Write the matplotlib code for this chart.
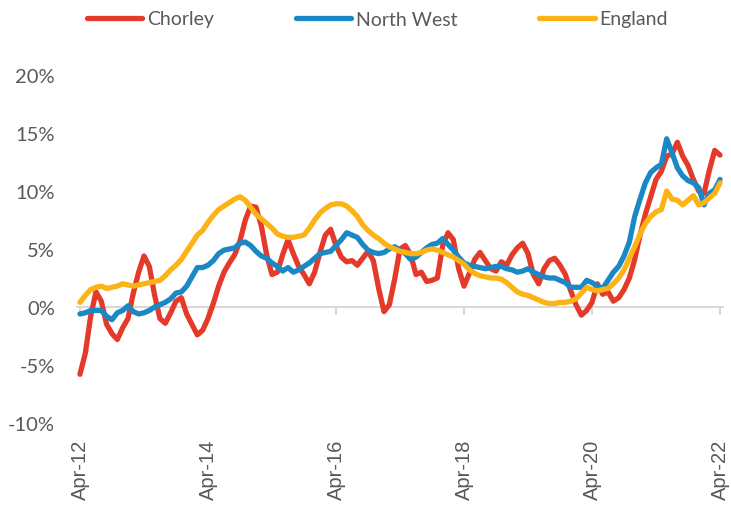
import matplotlib
matplotlib.use("Agg")
import matplotlib.pyplot as plt
from matplotlib.lines import Line2D

# ---------------- data ----------------
months = list(range(121))  # Apr-12 .. Apr-22, monthly

chorley = [
    -5.8, -4.0, -0.8, 1.3, 0.5, -1.5, -2.3, -2.8, -1.8, -1.0,
    1.2, 3.0, 4.4, 3.5, 1.0, -1.0, -1.4, -0.5, 0.5, 0.8,
    -0.6, -1.5, -2.4, -2.0, -1.0, 0.3, 1.8, 3.0, 3.8, 4.5,
    5.7, 7.5, 8.7, 8.6, 7.0, 4.5, 2.8, 3.0, 4.5, 5.8,
    4.6, 3.5, 2.8, 2.0, 3.0, 4.7, 6.2, 6.7, 5.3, 4.3,
    3.9, 4.0, 3.6, 4.2, 4.8, 4.0, 1.6, -0.4, 0.2, 2.4,
    5.0, 5.3, 4.5, 2.8, 3.0, 2.2, 2.3, 2.5, 5.3, 6.4,
    5.8, 3.3, 1.8, 2.9, 4.1, 4.7, 4.0, 3.3, 3.1, 3.9,
    3.6, 4.5, 5.1, 5.5, 4.6, 2.8, 2.0, 3.3, 4.0, 4.2,
    3.6, 2.8, 1.4, 0.2, -0.7, -0.3, 0.4, 2.0, 1.1, 1.3,
    0.5, 0.8, 1.5, 2.5, 4.1, 6.2, 8.0, 9.5, 11.0, 11.7,
    13.0, 13.2, 14.2, 13.0, 12.2, 11.0, 10.0, 9.8, 11.8, 13.5,
    13.1,
]

north_west = [
    -0.6, -0.5, -0.3, -0.3, -0.3, -0.8, -1.1, -0.5, -0.3, 0.1,
    -0.4, -0.6, -0.5, -0.3, 0.0, 0.2, 0.4, 0.7, 1.2, 1.3,
    1.8, 2.6, 3.4, 3.4, 3.6, 4.0, 4.6, 4.9, 5.0, 5.1,
    5.5, 5.6, 5.3, 4.8, 4.4, 4.2, 3.8, 3.5, 3.1, 3.4,
    3.0, 3.2, 3.5, 3.8, 4.2, 4.6, 4.7, 4.8, 5.3, 5.8,
    6.4, 6.2, 6.0, 5.4, 4.9, 4.7, 4.6, 4.7, 5.0, 5.2,
    4.9, 4.6, 4.1, 4.3, 4.7, 5.1, 5.4, 5.5, 5.9, 5.4,
    4.9, 4.3, 3.8, 3.6, 3.5, 3.4, 3.3, 3.4, 3.5, 3.5,
    3.3, 3.2, 3.0, 3.1, 3.3, 3.0, 2.8, 2.6, 2.5, 2.5,
    2.3, 2.1, 1.7, 1.7, 1.7, 2.3, 2.1, 1.8, 1.6, 2.3,
    3.0, 3.5, 4.4, 5.6, 7.8, 9.3, 10.7, 11.6, 12.0, 12.3,
    14.5, 13.3, 12.0, 11.3, 10.9, 10.7, 10.3, 8.8, 9.8, 10.1,
    11.0,
]

england = [
    0.4, 1.0, 1.5, 1.7, 1.8, 1.6, 1.7, 1.8, 2.0, 1.9,
    1.8, 1.9, 2.0, 2.1, 2.2, 2.3, 2.7, 3.2, 3.6, 4.1,
    4.8, 5.5, 6.2, 6.6, 7.3, 7.9, 8.4, 8.7, 9.0, 9.3,
    9.5, 9.2, 8.6, 8.0, 7.6, 7.2, 6.8, 6.3, 6.1, 6.0,
    6.0, 6.1, 6.2, 6.8, 7.5, 8.1, 8.5, 8.8, 8.9, 8.9,
    8.7, 8.3, 7.8, 7.1, 6.6, 6.2, 5.9, 5.5, 5.2, 5.0,
    4.8, 4.7, 4.6, 4.6, 4.7, 4.9, 5.0, 4.9, 4.7, 4.5,
    4.3, 4.0, 3.7, 3.2, 2.9, 2.7, 2.6, 2.5, 2.5, 2.4,
    2.1, 1.7, 1.3, 1.1, 1.0, 0.8, 0.6, 0.4, 0.3, 0.3,
    0.4, 0.4, 0.5, 0.7, 1.2, 1.7, 1.5, 1.4, 1.5, 1.6,
    2.0, 2.5, 3.2, 4.2, 5.2, 6.3, 7.2, 7.8, 8.2, 8.4,
    10.0, 9.3, 9.2, 8.8, 9.2, 9.6, 8.8, 9.0, 9.4, 9.8,
    10.7,
]

series_names = ["Chorley", "North West", "England"]
series_colors = ["#E5392A", "#1A88C4", "#FBB316"]

xtick_pos = [0, 24, 48, 72, 96, 120]
xtick_labels = ["Apr-12", "Apr-14", "Apr-16", "Apr-18", "Apr-20", "Apr-22"]
ytick_pos = [-10, -5, 0, 5, 10, 15, 20]
ytick_labels = ["-10%", "-5%", "0%", "5%", "10%", "15%", "20%"]

# ---------------- figure ----------------
W, H = 731, 506
fig = plt.figure(figsize=(W / 100, H / 100), dpi=100)
left_px, right_px = 77.3, 722.7
top_px, bot_px = 76, 424
ax = fig.add_axes([left_px / W, (H - bot_px) / H,
                   (right_px - left_px) / W, (bot_px - top_px) / H])

text_color = "#595959"
for vals, name, col in zip([chorley, north_west, england], series_names, series_colors):
    ax.plot(months, vals, color=col, lw=3.8, solid_capstyle="round",
            solid_joinstyle="round", label=name)

ax.set_xlim(-0.5, 120.5)
ax.set_ylim(-10, 20)

for s in ["top", "right", "left"]:
    ax.spines[s].set_visible(False)
ax.spines["bottom"].set_position(("data", 0))
ax.spines["bottom"].set_color("#D9D9D9")
ax.spines["bottom"].set_linewidth(1.5)
ax.spines["bottom"].set_zorder(0)

ax.set_xticks(xtick_pos)
ax.set_xticklabels([])
ax.tick_params(axis="x", direction="out", length=6, width=1.5, color="#D9D9D9")

ax.set_yticks(ytick_pos)
ax.set_yticklabels(ytick_labels)
ax.tick_params(axis="y", length=0, pad=16, labelsize=14.5, labelcolor=text_color)
for lab in ax.get_yticklabels():
    lab.set_fontfamily("Lato")

for xp, lab in zip(xtick_pos, xtick_labels):
    ax.text(xp, -0.045, lab, transform=ax.get_xaxis_transform(), rotation=90,
            ha="center", va="top", fontsize=14.5, color=text_color,
            family="Liberation Sans")

handles = [Line2D([0], [0], color=c, lw=3.8, solid_capstyle="round") for c in series_colors]
fig.legend(handles, series_names, loc="center left",
           bbox_to_anchor=(87 / W, 1 - 20 / H), ncol=3, frameon=False,
           borderpad=0, borderaxespad=0, handlelength=2.85, handletextpad=0.25,
           columnspacing=4.2, prop={"family": "Lato", "size": 14},
           labelcolor=text_color)

fig.savefig("out.png", dpi=100)
